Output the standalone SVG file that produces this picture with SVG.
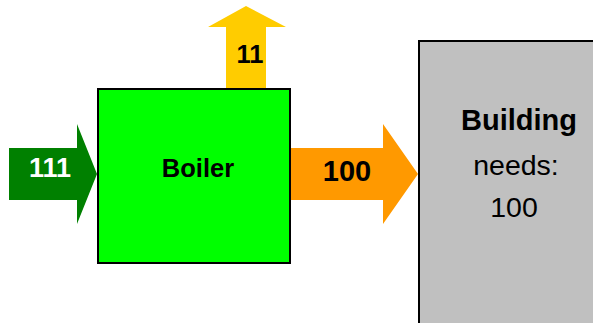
<svg xmlns="http://www.w3.org/2000/svg" width="593" height="323" viewBox="0 0 593 323">
<style>
.b{font-family:"Liberation Sans",Arial,sans-serif;font-weight:bold;text-anchor:middle}
.r{font-family:"Liberation Sans",Arial,sans-serif;text-anchor:middle}
</style>
<rect width="593" height="323" fill="#ffffff"/>
<g id="connectors">
<polygon id="in111" points="9,148 77,148 77,124 97,174 77,224 77,200 9,200" fill="#008000"/>
<polygon id="loss11" points="226,88 226,27 208,27 246,6 286,27 266,27 266,88" fill="#ffcc00"/>
<polygon id="out100" points="290,148 383,148 383,124 418,174 383,224 383,200 290,200" fill="#ff9900"/>
<text class="b" x="50" y="177" font-size="27" fill="#ffffff">111</text>
<text class="b" x="250" y="63" font-size="25.5" fill="#000000">11</text>
<text class="b" x="347" y="181" font-size="29" fill="#000000">100</text>
</g>
<g id="boiler">
<rect x="98" y="89" width="192" height="174" fill="#00ff00" stroke="#000000" stroke-width="2"/>
<text class="b" x="198" y="177" font-size="25.5" fill="#000000">Boiler</text>
</g>
<g id="building">
<rect x="419" y="41" width="180" height="290" fill="#c0c0c0" stroke="#000000" stroke-width="2"/>
<text class="b" x="519" y="130" font-size="29" fill="#000000">Building</text>
<text class="r" x="516" y="175" font-size="28.5" fill="#000000">needs:</text>
<text class="r" x="514" y="217" font-size="28.5" fill="#000000">100</text>
</g>
</svg>
